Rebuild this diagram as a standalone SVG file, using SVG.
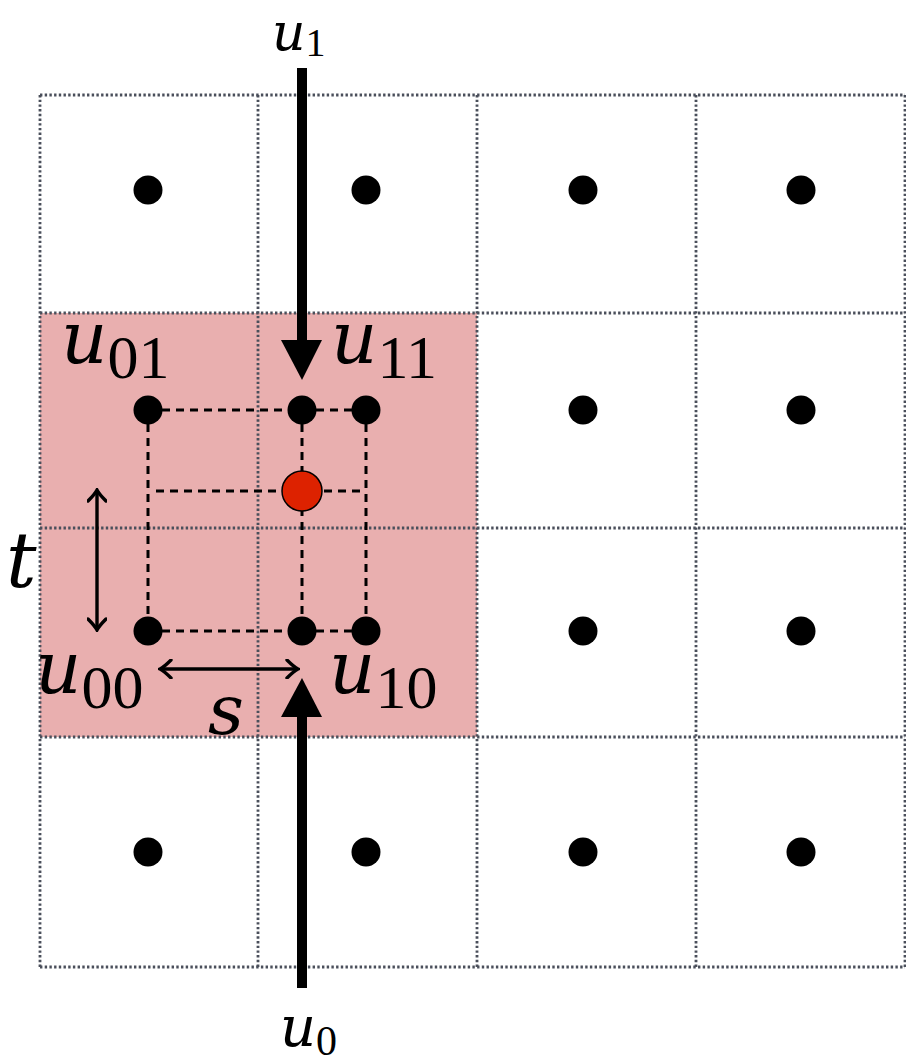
<svg xmlns="http://www.w3.org/2000/svg" width="906" height="1062" viewBox="0 0 906 1062">
<style>
.grid{stroke:#4a4f5b;stroke-width:2.8;stroke-dasharray:2.4 2.3;fill:none}
.dash{stroke:#000;stroke-width:3;stroke-dasharray:8 6;fill:none}
.dot{fill:#000}
.big{stroke:#000;stroke-width:10}
.thin{stroke:#000;stroke-width:3.4;fill:none;marker-start:url(#ah);marker-end:url(#ah)}
.u{font-family:"DejaVu Serif",serif;font-style:italic}
.sub{font-family:"Liberation Serif",serif;font-style:normal}
</style>
<defs>
<marker id="ah" viewBox="-13 -10 15 20" markerWidth="15" markerHeight="20" refX="0" refY="0" orient="auto-start-reverse" markerUnits="userSpaceOnUse">
<path d="M-11,-9 Q-4,-2 0,0 Q-4,2 -11,9" stroke="#000" stroke-width="3.4" fill="none" stroke-linecap="round"/>
</marker>
</defs>
<rect width="906" height="1062" fill="#fff"/>
<rect id="region" x="40" y="313" width="437" height="424" fill="#e9afaf"/>
<g id="grid">
<line class="grid" x1="40" y1="95" x2="40" y2="967"/>
<line class="grid" x1="258" y1="95" x2="258" y2="967"/>
<line class="grid" x1="477" y1="95" x2="477" y2="967"/>
<line class="grid" x1="696" y1="95" x2="696" y2="967"/>
<line class="grid" x1="905" y1="95" x2="905" y2="967"/>
<line class="grid" x1="40" y1="95" x2="905" y2="95"/>
<line class="grid" x1="40" y1="313" x2="905" y2="313"/>
<line class="grid" x1="40" y1="528" x2="905" y2="528"/>
<line class="grid" x1="40" y1="737" x2="905" y2="737"/>
<line class="grid" x1="40" y1="967" x2="905" y2="967"/>
</g>
<g id="connectors">
<line class="dash" x1="148" y1="410" x2="366" y2="410"/>
<line class="dash" x1="148" y1="631" x2="366" y2="631"/>
<line class="dash" x1="148" y1="410" x2="148" y2="631"/>
<line class="dash" x1="302" y1="410" x2="302" y2="631"/>
<line class="dash" x1="366" y1="410" x2="366" y2="631"/>
<line class="dash" x1="156" y1="491" x2="360" y2="491"/>
<line class="big" x1="302" y1="68" x2="302" y2="342"/>
<polygon points="281,340 322,340 302,380"/>
<line class="big" x1="302" y1="988" x2="302" y2="715"/>
<polygon points="281,717 322,717 302,678"/>
<line class="thin" x1="97" y1="490" x2="97" y2="630"/>
<line class="thin" x1="160" y1="669" x2="298" y2="669"/>
</g>
<g id="cells">
<circle class="dot" cx="148" cy="190" r="14.5"/>
<circle class="dot" cx="366" cy="190" r="14.5"/>
<circle class="dot" cx="583" cy="190" r="14.5"/>
<circle class="dot" cx="801" cy="190" r="14.5"/>
<circle class="dot" cx="583" cy="410" r="14.5"/>
<circle class="dot" cx="801" cy="410" r="14.5"/>
<circle class="dot" cx="583" cy="631" r="14.5"/>
<circle class="dot" cx="801" cy="631" r="14.5"/>
<circle class="dot" cx="148" cy="852" r="14.5"/>
<circle class="dot" cx="366" cy="852" r="14.5"/>
<circle class="dot" cx="583" cy="852" r="14.5"/>
<circle class="dot" cx="801" cy="852" r="14.5"/>
</g>
<g id="samples">
<circle class="dot" cx="148" cy="410" r="14.5"/>
<circle class="dot" cx="302" cy="410" r="14.5"/>
<circle class="dot" cx="366" cy="410" r="14.5"/>
<circle class="dot" cx="148" cy="631" r="14.5"/>
<circle class="dot" cx="302" cy="631" r="14.5"/>
<circle class="dot" cx="366" cy="631" r="14.5"/>
</g>
<g id="point"><circle cx="302" cy="491" r="20" fill="#dd2200" stroke="#000" stroke-width="1.5"/></g>
<g id="labels">
<text x="272" y="50" class="u" font-size="52">u<tspan class="sub" font-size="40" dy="6">1</tspan></text>
<text x="280" y="1046" class="u" font-size="56">u<tspan class="sub" font-size="42" dy="9">0</tspan></text>
<text x="61" y="363" class="u" font-size="72">u<tspan class="sub" font-size="62" dy="15">01</tspan></text>
<text x="331" y="363" class="u" font-size="72">u<tspan class="sub" font-size="62" dy="15">11</tspan></text>
<text x="35" y="693" class="u" font-size="72">u<tspan class="sub" font-size="62" dy="15">00</tspan></text>
<text x="329" y="693" class="u" font-size="72">u<tspan class="sub" font-size="62" dy="15">10</tspan></text>
<text x="6" y="587" class="u" font-size="76">t</text>
<text x="208" y="734" class="u" font-size="70">s</text>
</g>
</svg>
